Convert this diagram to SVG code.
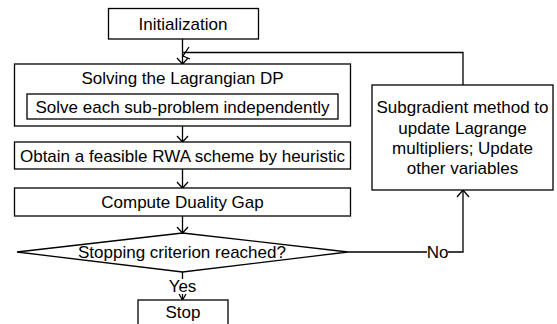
<svg xmlns="http://www.w3.org/2000/svg" width="557" height="324" viewBox="0 0 557 324">
<style>
.box{fill:#fff;stroke:#000;stroke-width:1.3}
.ln{fill:none;stroke:#000;stroke-width:1.3}
text{font-family:"Liberation Sans",Arial,sans-serif;font-size:17px;fill:#000;text-anchor:middle}
.lbl{fill:#fff;stroke:none}
</style>
<rect width="557" height="324" fill="#fff"/>
<g id="connectors">
<polyline class="ln" points="182.5,39 182.5,64"/>
<polyline class="ln" points="177,58 182.5,64 188,58"/>
<polyline class="ln" points="463,85 463,52.5 182.5,52.5"/>
<polyline class="ln" points="189,47 183,56 190,59"/>
<polyline class="ln" points="182.5,126 182.5,142"/>
<polyline class="ln" points="177,136 182.5,142 188,136"/>
<polyline class="ln" points="182.5,169 182.5,188"/>
<polyline class="ln" points="177,182 182.5,188 188,182"/>
<polyline class="ln" points="182.5,216 182.5,233"/>
<polyline class="ln" points="177,227 182.5,233 188,227"/>
<polyline class="ln" points="182.5,272 182.5,300"/>
<polyline class="ln" points="179,294 182.5,300 186,294"/>
<polyline class="ln" points="348,252 463,252 463,190"/>
<polyline class="ln" points="457,197 463,190 469,197"/>
<rect class="lbl" x="171" y="279" width="23" height="15"/>
<text x="182.5" y="292">Yes</text>
<rect class="lbl" x="427" y="244" width="21" height="15"/>
<text x="437.5" y="258">No</text>
</g>
<g id="init"><rect class="box" x="108.5" y="8.5" width="150" height="30.5"/><text x="183" y="29.5">Initialization</text></g>
<g id="solve"><rect class="box" x="14.5" y="64" width="336" height="62"/><text x="182.5" y="84">Solving the Lagrangian DP</text>
<g id="sub"><rect class="box" x="27" y="94" width="311" height="25"/><text x="182.5" y="112.5">Solve each sub-problem independently</text></g></g>
<g id="obtain"><rect class="box" x="14.5" y="142" width="336" height="27"/><text x="182.5" y="161.5">Obtain a feasible RWA scheme by heuristic</text></g>
<g id="gap"><rect class="box" x="14.5" y="188" width="336" height="28"/><text x="182.5" y="208">Compute Duality Gap</text></g>
<g id="decision"><polygon class="box" points="17,252 182.5,233 348,252 182.5,272"/><text x="182" y="258">Stopping criterion reached?</text></g>
<g id="stop"><rect class="box" x="138" y="300" width="90" height="30"/><text x="183" y="318">Stop</text></g>
<g id="update"><rect class="box" x="372" y="85" width="181" height="105"/>
<text x="462.5" y="113">Subgradient method to</text>
<text x="462.5" y="134">update Lagrange</text>
<text x="462.5" y="154">multipliers; Update</text>
<text x="462.5" y="174">other variables</text></g>
</svg>
